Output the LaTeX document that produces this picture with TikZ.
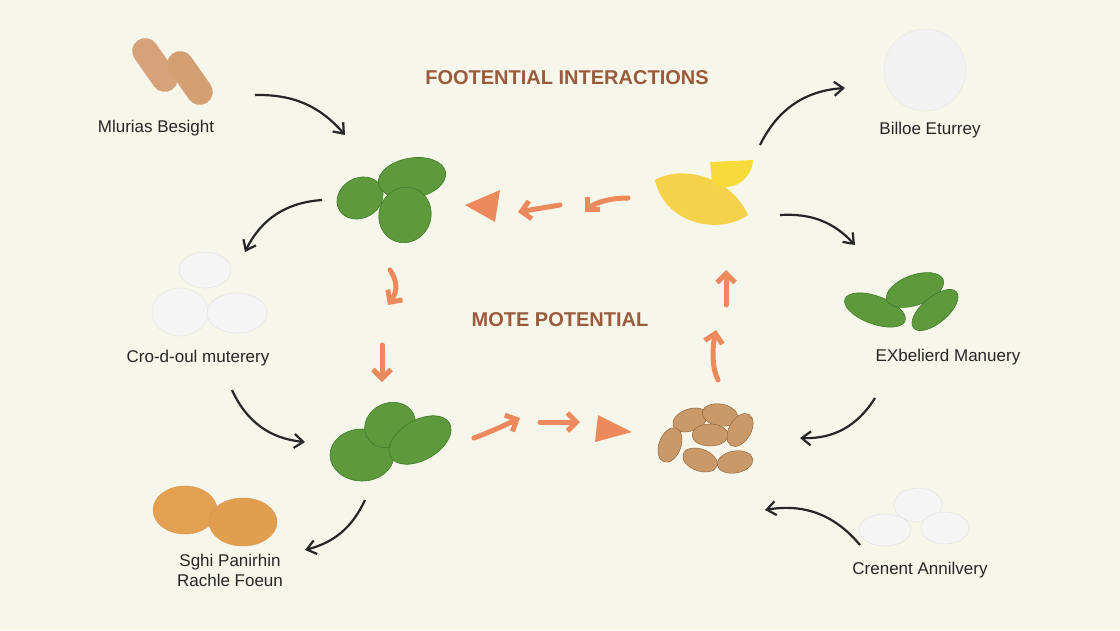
\documentclass[tikz,border=0pt]{standalone}
\usepackage{fontspec}
\setmainfont{Liberation Sans}
\usetikzlibrary{arrows.meta}
\definecolor{bg}{HTML}{F7F6EA}
\definecolor{ttl}{HTML}{9A5B3C}
\definecolor{org}{HTML}{EC8A5E}
\definecolor{tan}{HTML}{D7A27A}
\definecolor{leaf}{HTML}{5E9A3C}
\definecolor{leafd}{HTML}{3E7A2A}
\definecolor{alm}{HTML}{C9996A}
\definecolor{ora}{HTML}{E3A050}
\definecolor{lem}{HTML}{F5D24A}
\tikzset{
 lbl/.style={font=\fontsize{17}{20}\selectfont, text=black!85, align=center},
 ttlst/.style={font=\fontsize{20}{22}\selectfont\bfseries, text=ttl},
 blk/.style={draw=black!85, line width=2.2pt, -{Straight Barb[length=9pt,width=14pt]}},
 orar/.style={draw=org, line width=5pt, line cap=round, -{Straight Barb[length=9pt,width=18pt]}},
 tri/.style={fill=org},
 pill/.style={fill=white!92!gray, draw=black!12},
 leafst/.style={fill=leaf, draw=leafd, line width=0.6pt},
}
\begin{document}
\begin{tikzpicture}[x=1pt,y=-1pt]
\fill[bg] (0,0) rectangle (1120,630);
\useasboundingbox (0,0) rectangle (1120,630);
% texts
\node[ttlst] (t1) at (567,78) {FOOTENTIAL INTERACTIONS};
\node[ttlst] (t2) at (560,320) {MOTE POTENTIAL};
\node[lbl] (l1) at (156,128) {Mlurias Besight};
\node[lbl] (l2) at (930,130) {Billoe Eturrey};
\node[lbl] (l3) at (198,358) {Cro-d-oul muterery};
\node[lbl] (l4) at (948,357) {EXbelierd Manuery};
\node[lbl] (l5) at (230,570) {Sghi Panirhin\\Rachle Foeun};
\node[lbl] (l6) at (920,570) {Crenent Annilvery};
% capsules
\fill[tan,rounded corners=13pt,rotate around={-55:(155,65)}] (125,52) rectangle (185,78);
\fill[tan!90!brown,rounded corners=13pt,rotate around={-55:(190,78)}] (160,65) rectangle (220,91);
\coordinate (c1) at (170,70);
% white round tablet
\node[circle,fill=white!90!gray,draw=black!10,minimum size=82pt] (c2) at (925,70) {};
% leaves top
\filldraw[leafst,rotate around={30:(360,198)}] (360,198) ellipse (24 and 20);
\filldraw[leafst,rotate around={10:(412,178)}] (412,178) ellipse (34 and 20);
\filldraw[leafst,rotate around={-20:(405,215)}] (405,215) ellipse (26 and 28);
\coordinate (c3) at (390,200);
% lemon
\fill[lem] (655,180) .. controls (680,165) and (730,175) .. (748,215) .. controls (720,235) and (665,225) .. (655,180);
\fill[lem!80!yellow] (710,162) -- (753,160) .. controls (752,180) and (730,195) .. (712,182) -- cycle;
\coordinate (c4) at (700,195);
% white pills left
\filldraw[pill] (205,270) ellipse (26 and 18);
\filldraw[pill] (180,312) ellipse (28 and 24);
\filldraw[pill] (237,313) ellipse (30 and 20);
\coordinate (c5) at (210,295);
% spinach
\filldraw[leafst] (362,455) ellipse (32 and 26);
\filldraw[leafst,rotate around={25:(390,425)}] (390,425) ellipse (26 and 22);
\filldraw[leafst,rotate around={30:(420,440)}] (420,440) ellipse (34 and 20);
\coordinate (c6) at (395,440);
% almonds
\foreach \x/\y/\a in {690/420/20,720/415/-10,740/430/60,670/445/70,710/435/0,700/460/-20,735/462/10}{
 \filldraw[alm,draw=brown!70!black,line width=0.4pt,rotate around={\a:(\x,\y)}] (\x,\y) ellipse (18 and 11);}
\coordinate (c7) at (710,440);
% leaves right
\filldraw[leafst,rotate around={-20:(875,310)}] (875,310) ellipse (32 and 14);
\filldraw[leafst,rotate around={20:(915,290)}] (915,290) ellipse (30 and 15);
\filldraw[leafst,rotate around={40:(935,310)}] (935,310) ellipse (28 and 13);
\coordinate (c8) at (905,300);
% orange tablets
\filldraw[fill=ora,draw=ora!70!brown] (185,510) ellipse (32 and 24);
\filldraw[fill=ora!95!brown,draw=ora!70!brown] (243,522) ellipse (34 and 24);
\coordinate (c9) at (210,510);
% white pills bottom right
\filldraw[pill] (918,505) ellipse (24 and 17);
\filldraw[pill] (885,530) ellipse (26 and 16);
\filldraw[pill] (945,528) ellipse (24 and 16);
\coordinate (c10) at (915,520);
% black arrows
\coordinate (a1) at (255,95); \coordinate (b1) at (345,135);
\coordinate (a2) at (760,145); \coordinate (b2) at (845,88);
\coordinate (a3) at (322,200); \coordinate (b3) at (245,252);
\coordinate (a4) at (780,215); \coordinate (b4) at (855,245);
\coordinate (a5) at (232,390); \coordinate (b5) at (305,442);
\coordinate (a6) at (875,398); \coordinate (b6) at (800,438);
\coordinate (a7) at (365,500); \coordinate (b7) at (305,550);
\coordinate (a8) at (860,545); \coordinate (b8) at (765,510);
\draw[blk] (a1) to[bend left=25] (b1);
\draw[blk] (a2) to[bend left=30] (b2);
\draw[blk] (a3) to[bend right=30] (b3);
\draw[blk] (a4) to[bend left=25] (b4);
\draw[blk] (a5) to[bend right=30] (b5);
\draw[blk] (a6) to[bend left=30] (b6);
\draw[blk] (a7) to[bend left=25] (b7);
\draw[blk] (a8) to[bend right=30] (b8);
% orange arrows
\fill[tri] (465,205) -- (500,190) -- (495,222) -- cycle;
\draw[orar] (560,205) -- (518,212);
\draw[orar] (628,198) .. controls (605,198) and (592,205) .. (585,212);
\draw[orar] (390,270) .. controls (400,285) and (395,295) .. (388,305);
\draw[orar] (382,345) -- (382,382);
\draw[orar] (474,438) .. controls (495,430) and (505,425) .. (520,418);
\draw[orar] (540,422) -- (580,422);
\fill[tri] (598,415) -- (632,432) -- (595,442) -- cycle;
\draw[orar] (718,380) .. controls (712,368) and (712,350) .. (716,330);
\draw[orar] (726,305) -- (726,270);
\end{tikzpicture}
\end{document}
